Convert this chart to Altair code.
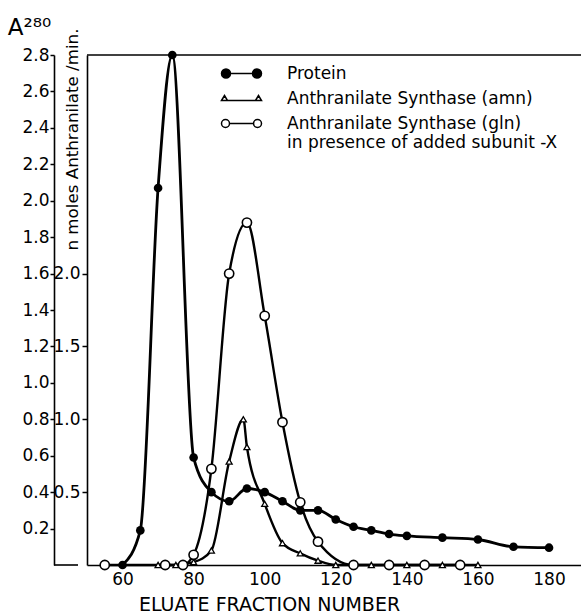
import altair as alt
import pandas as pd

# ---------------- data ----------------
protein_fraction = [60, 65, 70, 74, 80, 85, 90, 95, 100, 105, 110, 115, 120, 125, 130, 135, 140, 150, 160, 170, 180]
protein_a280 = [0.0, 0.19, 2.07, 2.8, 0.59, 0.40, 0.35, 0.42, 0.40, 0.35, 0.30, 0.30, 0.25, 0.21, 0.19, 0.17, 0.16, 0.15, 0.14, 0.10, 0.095]

amn_fraction = [70, 75, 80, 85, 90, 94, 95, 100, 105, 110, 115, 120, 130, 140, 150, 160]
amn_activity = [0.0, 0.0, 0.02, 0.10, 0.71, 1.0, 0.81, 0.42, 0.15, 0.08, 0.03, 0.0, 0.0, 0.0, 0.0, 0.0]

gln_fraction = [55, 72, 77, 80, 85, 90, 95, 100, 105, 110, 115, 125, 135, 145, 155]
gln_activity = [0.0, 0.0, 0.0, 0.07, 0.66, 2.0, 2.35, 1.71, 0.98, 0.43, 0.16, 0.0, 0.0, 0.0, 0.0]

series_names = ["Protein", "Anthranilate Synthase (amn)", "Anthranilate Synthase (gln)"]
x_ticks = [60, 80, 100, 120, 140, 160, 180]
a280_ticks = [0.2, 0.4, 0.6, 0.8, 1.0, 1.2, 1.4, 1.6, 1.8, 2.0, 2.2, 2.4, 2.6, 2.8]
activity_ticks = [0.5, 1.0, 1.5, 2.0]
x_domain = [50, 189]
a280_domain = [0, 2.8]
activity_domain = [0, 3.5]

# ---------------- styling ----------------
FONT = "DejaVu Sans"
W, H = 494, 510

protein_df = pd.DataFrame({"fraction": protein_fraction, "a280": protein_a280})
activity_df = pd.concat([
    pd.DataFrame({"fraction": amn_fraction, "activity": amn_activity, "series": series_names[1]}),
    pd.DataFrame({"fraction": gln_fraction, "activity": gln_activity, "series": series_names[2]}),
], ignore_index=True)
legend_df = pd.DataFrame({"series": series_names})
one_df = pd.DataFrame({"k": [0]})

x_scale = alt.Scale(domain=x_domain, nice=False, zero=False)
a280_scale = alt.Scale(domain=a280_domain, nice=False)
act_scale = alt.Scale(domain=activity_domain, nice=False)

common = dict(labelFont=FONT, labelColor="black", domainColor="black", domainWidth=1.6,
              tickColor="black", tickWidth=1.5, grid=False, titleFont=FONT,
              titleColor="black", titleFontWeight="normal")

x_axis = alt.Axis(values=x_ticks, title="ELUATE FRACTION NUMBER", ticks=False, labelPadding=6,
                  labelFontSize=17, titleFontSize=19, titleX=182, titleY=45,
                  titleAlign="center", titleBaseline="alphabetic", **common)

a280_axis = alt.Axis(orient="left", offset=33, values=a280_ticks, format=".1f", tickSize=4,
                     labelPadding=1, labelFontSize=17, title="A²⁸⁰", titleAngle=0,
                     titleX=-25, titleY=-21, titleAlign="center", titleBaseline="alphabetic",
                     titleFontSize=23, **common)

act_axis = alt.Axis(orient="left", offset=0, values=activity_ticks, format=".1f", tickSize=5,
                    labelPadding=2, labelFontSize=17, title="n moles  Anthranilate /min.",
                    titleAngle=270, titleX=-15, titleY=-27, titleAlign="right",
                    titleBaseline="middle", titleFontSize=16.7, **common)


def xenc():
    # every layer carries the same x axis definition (the scale is shared)
    return alt.X("fraction:Q", scale=x_scale, axis=x_axis)


# ---------------- protein (A280 scale) ----------------
protein_line = alt.Chart(protein_df).mark_line(color="black", strokeWidth=2.8, interpolate="monotone").encode(
    x=xenc(),
    y=alt.Y("a280:Q", scale=a280_scale, axis=a280_axis),
)
protein_pts = alt.Chart(protein_df).mark_point(filled=True, color="black", size=75, opacity=1, shape="circle").encode(
    x=xenc(),
    y=alt.Y("a280:Q", scale=a280_scale, axis=None),
)
top_rule = alt.Chart(one_df).mark_rule(color="black", strokeWidth=1.6).encode(
    y=alt.YDatum(a280_domain[1], scale=a280_scale, axis=None),
    x=alt.value(0), x2=alt.value(W),
)
base_seg = alt.Chart(one_df).mark_rule(color="black", strokeWidth=1.6).encode(
    y=alt.YDatum(a280_domain[0], scale=a280_scale, axis=None),
    x=alt.value(-33), x2=alt.value(-9),
)

# ---------------- enzyme activity (n moles scale) ----------------
act_lines = alt.Chart(activity_df).mark_line(color="black", strokeWidth=2.4, interpolate="monotone").encode(
    x=xenc(),
    y=alt.Y("activity:Q", scale=act_scale, axis=act_axis),
    detail="series:N",
)
amn_pts = alt.Chart(activity_df).transform_filter(alt.datum.series == series_names[1]).mark_point(
    shape="triangle-up", filled=True, fill="white", stroke="black", strokeWidth=1.3, size=36, opacity=1
).encode(
    x=xenc(),
    y=alt.Y("activity:Q", scale=act_scale, axis=None),
)
gln_pts = alt.Chart(activity_df).transform_filter(alt.datum.series == series_names[2]).mark_point(
    shape="circle", filled=True, fill="white", stroke="black", strokeWidth=1.6, size=85, opacity=1
).encode(
    x=xenc(),
    y=alt.Y("activity:Q", scale=act_scale, axis=None),
)

# ---------------- legend (line with two markers as symbol) ----------------
legend_paths = [
    "M -4 0 A 0.9 0.9 0 1 0 -2.2 0 A 0.9 0.9 0 1 0 -4 0 Z M -2.2 0 L 2.2 0 M 2.2 0 A 0.9 0.9 0 1 0 4 0 A 0.9 0.9 0 1 0 2.2 0 Z",
    "M -4 0.4 L -3.4 -0.6 L -2.8 0.4 Z M -2.8 0.4 L 2.8 0.4 M 2.8 0.4 L 3.4 -0.6 L 4 0.4 Z",
    "M -4 0 A 0.8 0.8 0 1 0 -2.4 0 A 0.8 0.8 0 1 0 -4 0 Z M -2.4 0 L 2.4 0 M 2.4 0 A 0.8 0.8 0 1 0 4 0 A 0.8 0.8 0 1 0 2.4 0 Z",
]
legend_def = alt.Legend(
    title=None, orient="none", legendX=146, legendY=10, padding=0,
    labelFont=FONT, labelFontSize=17, labelColor="black", labelOffset=37, labelLimit=500,
    symbolSize=100, symbolStrokeColor="black", symbolStrokeWidth=1.5, rowPadding=7,
    labelExpr="datum.label == 'Anthranilate Synthase (gln)' ? ['Anthranilate Synthase (gln)', 'in  presence of added subunit -X'] : datum.label",
)
legend_layer = alt.Chart(legend_df).mark_point(filled=True, strokeWidth=1.5, size=100, opacity=1).encode(
    x=alt.value(-2000), y=alt.value(-2000),
    shape=alt.Shape("series:N", scale=alt.Scale(domain=series_names, range=legend_paths), legend=legend_def),
    fill=alt.Fill("series:N", scale=alt.Scale(domain=series_names, range=["black", "white", "white"]), legend=legend_def),
    stroke=alt.Stroke("series:N", scale=alt.Scale(domain=series_names, range=["black", "black", "black"]), legend=legend_def),
)

chart = alt.layer(
    protein_line, protein_pts, top_rule, base_seg, act_lines, amn_pts, gln_pts, legend_layer
).resolve_scale(y="independent").properties(
    width=W, height=H,
    autosize=alt.AutoSizeParams(type="none"),
    padding={"left": 87, "top": 55, "right": 0, "bottom": 49},
    background="white",
).configure_view(stroke=None)

chart.save("out.html", embed_options={"renderer": "svg", "actions": False})
